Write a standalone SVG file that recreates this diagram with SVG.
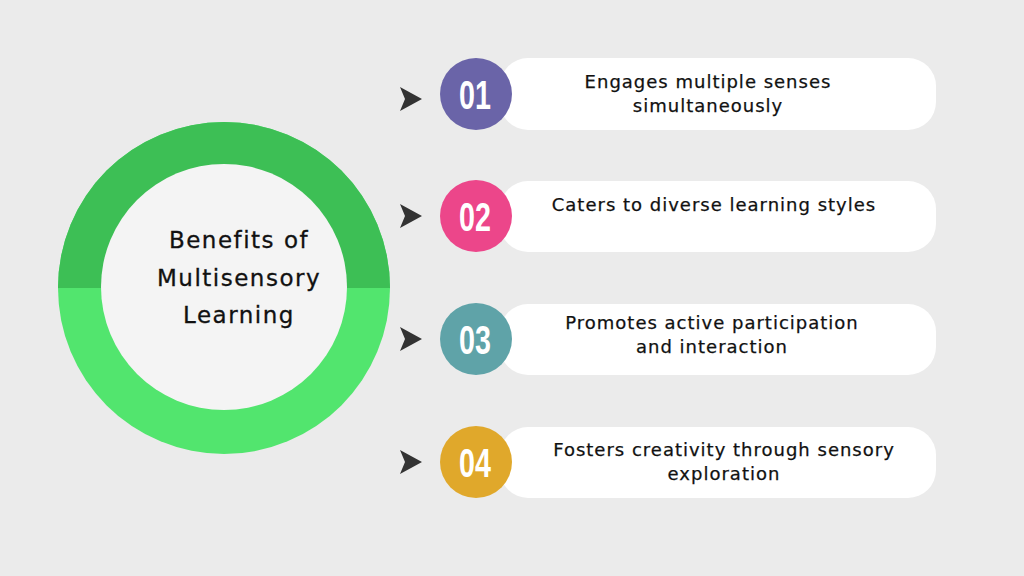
<svg xmlns="http://www.w3.org/2000/svg" width="1024" height="576" viewBox="0 0 1024 576">
<defs>
<style>
.pill{fill:#ffffff}
.txt{font-family:"DejaVu Sans",sans-serif;font-size:18px;letter-spacing:1px;fill:#111111;stroke:#111111;stroke-width:0.25;text-anchor:middle}
.title{font-family:"DejaVu Sans",sans-serif;font-size:23px;letter-spacing:1.5px;fill:#111111;stroke:#111111;stroke-width:0.3;text-anchor:middle}
.num{font-family:"Liberation Sans",Arial,sans-serif;font-weight:bold;font-size:41px;fill:#ffffff;text-anchor:middle}
.arrow{fill:#333333}
</style>
<clipPath id="topHalf"><rect x="0" y="0" width="1024" height="288"/></clipPath>
</defs>
<rect width="1024" height="576" fill="#ebebeb"/>

<g id="connectors">
<path class="arrow" d="M400,87 L422,99 L400,111 L405,99 Z"/>
<path class="arrow" d="M400,204 L422,216 L400,228 L405,216 Z"/>
<path class="arrow" d="M400,327 L422,339 L400,351 L405,339 Z"/>
<path class="arrow" d="M400,450 L422,462 L400,474 L405,462 Z"/>
</g>

<g id="center">
<circle cx="224" cy="288" r="166" fill="#52e56e"/>
<circle cx="224" cy="288" r="166" fill="#3dbf55" clip-path="url(#topHalf)"/>
<circle cx="224" cy="287" r="123" fill="#f4f4f4"/>
<text class="title" x="239" y="248">Benefits of</text>
<text class="title" x="239" y="286">Multisensory</text>
<text class="title" x="239" y="323">Learning</text>
</g>

<g id="item1">
<rect class="pill" x="500" y="58" width="436" height="72" rx="28"/>
<circle cx="476" cy="94" r="36" fill="#6a64a8"/>
<text class="num" transform="translate(475,109) scale(0.7,1)">01</text>
<text class="txt" x="708" y="88">Engages multiple senses</text>
<text class="txt" x="708" y="112">simultaneously</text>
</g>

<g id="item2">
<rect class="pill" x="500" y="181" width="436" height="71" rx="28"/>
<circle cx="476" cy="216" r="36" fill="#ec468a"/>
<text class="num" transform="translate(475,231) scale(0.7,1)">02</text>
<text class="txt" x="714" y="211">Caters to diverse learning styles</text>
</g>

<g id="item3">
<rect class="pill" x="500" y="304" width="436" height="71" rx="28"/>
<circle cx="476" cy="339" r="36" fill="#5fa3a8"/>
<text class="num" transform="translate(475,354) scale(0.7,1)">03</text>
<text class="txt" x="712" y="329">Promotes active participation</text>
<text class="txt" x="712" y="353">and interaction</text>
</g>

<g id="item4">
<rect class="pill" x="500" y="427" width="436" height="71" rx="28"/>
<circle cx="476" cy="462" r="36" fill="#e0a82b"/>
<text class="num" transform="translate(475,477) scale(0.7,1)">04</text>
<text class="txt" x="724" y="456">Fosters creativity through sensory</text>
<text class="txt" x="724" y="480">exploration</text>
</g>
</svg>
